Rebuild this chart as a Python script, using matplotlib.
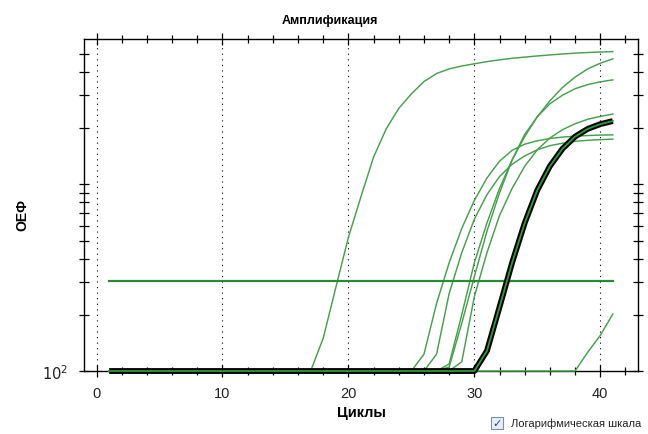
import numpy as np
import matplotlib.pyplot as plt
from matplotlib.ticker import FixedLocator, NullFormatter, FixedFormatter

plt.rcParams['font.family'] = ['Liberation Sans', 'DejaVu Sans']

# Cycles 1..41
cycles = list(range(1, 42))

# Fluorescence (RFU) per cycle
curve_a = [100] * 17 + [150, 280, 520, 860, 1400, 1980, 2550, 3050, 3550, 3920, 4150,
                        4300, 4420, 4540, 4640, 4730, 4800, 4870, 4930, 4990, 5040, 5080, 5110, 5140]
curve_b = [100] * 25 + [123, 230, 380, 580, 820, 1080, 1330, 1520, 1640, 1710, 1760,
                        1790, 1810, 1825, 1835, 1840]
curve_c = [100] * 26 + [123, 260, 430, 650, 880, 1100, 1280, 1420, 1530, 1610,
                        1660, 1700, 1720, 1735, 1745]
curve_d = [100] * 27 + [109, 200, 380, 620, 950, 1350, 1800, 2300, 2800, 3300,
                        3750, 4150, 4450, 4700]
curve_e = [100] * 27 + [105, 180, 320, 560, 900, 1350, 1850, 2300, 2700, 3000,
                        3250, 3420, 3540, 3625]
curve_f = [100] * 28 + [112, 250, 430, 680, 950, 1250, 1530, 1770, 1960, 2110,
                        2230, 2310, 2378]
curve_g = [100] * 38 + [126, 155, 202]
selected = [100] * 30 + [128, 220, 380, 620, 930, 1250, 1550, 1800, 1980, 2100, 2182]

green_curves = [curve_a, curve_b, curve_c, curve_d, curve_e, curve_f, curve_g]
threshold = 305

fig = plt.figure(figsize=(6.48, 4.35), dpi=100)
ax = fig.add_axes([0.1296, 0.1448, 0.855, 0.7632])

for c in green_curves:
    ax.plot(cycles, c, color='#46a04e', lw=1.05, clip_on=False, zorder=3)

ax.plot([cycles[0], cycles[-1]], [threshold, threshold], color='#2a8a32', lw=1.6, zorder=3)

ax.plot(cycles, selected, color='black', lw=4.2, clip_on=False, zorder=4,
        solid_capstyle='butt')
ax.plot(cycles, selected, color='#2f9a3a', lw=1.3, clip_on=False, zorder=5)

ax.set_yscale('log')
ax.set_ylim(100, 6000)
ax.set_xlim(-1, 43)

ax.xaxis.set_major_locator(FixedLocator([0, 10, 20, 30, 40]))
ax.xaxis.set_minor_locator(FixedLocator(np.arange(0, 43, 2)))
ax.yaxis.set_major_locator(FixedLocator([100]))
ax.yaxis.set_major_formatter(FixedFormatter(['$10^2$']))
ax.yaxis.set_minor_locator(FixedLocator([200, 300, 400, 500, 600, 700, 800, 900, 1000,
                                         2000, 3000, 4000, 5000]))
ax.yaxis.set_minor_formatter(NullFormatter())

ax.tick_params(axis='both', which='both', direction='inout', top=True, right=True,
               width=0.9, colors='black', labelsize=10.5, labelcolor='#222222')
ax.tick_params(axis='x', which='major', length=9, pad=6)
ax.tick_params(axis='x', which='minor', length=6)
ax.tick_params(axis='y', which='both', length=7)
ax.tick_params(axis='y', which='major', pad=8)

for sp in ax.spines.values():
    sp.set_linewidth(1.0)

for x in [0, 10, 20, 30, 40]:
    ax.axvline(x, color='black', lw=0.8, ls=(0, (1, 4)), zorder=1)

fig.text(0.509, 0.952, 'Амплификация', ha='center', va='center', fontsize=9, fontweight='bold')
ax.set_xlabel('Циклы', fontsize=10.5, fontweight='bold', labelpad=4)
fig.text(0.034, 0.505, 'ОЕФ', rotation=90, ha='center', va='center', fontsize=10, fontweight='bold')

# checkbox
fig.patches.append(plt.Rectangle((0.758, 0.012), 0.018, 0.027, transform=fig.transFigure,
                                 facecolor='#e8eef6', edgecolor='#7b8fa8', lw=0.8))
fig.text(0.767, 0.026, '✓', ha='center', va='center', fontsize=8, color='#2a3f7a',
         family=['DejaVu Sans'])
fig.text(0.788, 0.026, 'Логарифмическая шкала', ha='left', va='center', fontsize=8,
         color='#222222')

fig.savefig('out.png', dpi=100)
